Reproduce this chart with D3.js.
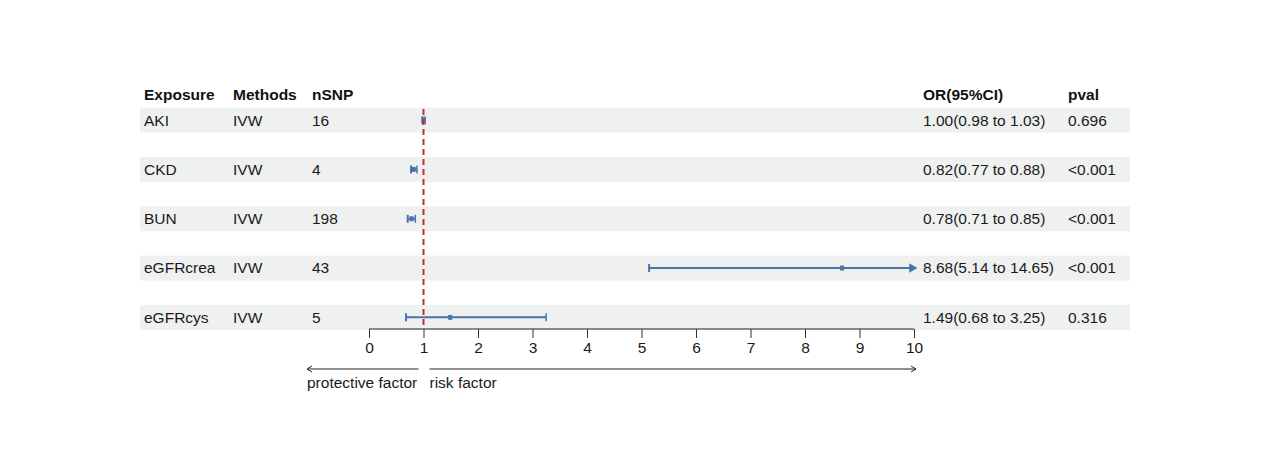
<!DOCTYPE html>
<html>
<head>
<meta charset="utf-8">
<script src="https://cdn.jsdelivr.net/npm/d3@7"></script>
<style>
  body { margin: 0; background: #fff; }
  text { font-family: "Liberation Sans", Arial, sans-serif; }
</style>
</head>
<body>
<div id="chart"></div>
<script>
var exposures = ["AKI", "CKD", "BUN", "eGFRcrea", "eGFRcys"];
var methods = ["IVW", "IVW", "IVW", "IVW", "IVW"];
var nsnp = [16, 4, 198, 43, 5];
var or = [1.00, 0.82, 0.78, 8.68, 1.49];
var lower = [0.98, 0.77, 0.71, 5.14, 0.68];
var upper = [1.03, 0.88, 0.85, 14.65, 3.25];
var orText = ["1.00(0.98 to 1.03)", "0.82(0.77 to 0.88)", "0.78(0.71 to 0.85)", "8.68(5.14 to 14.65)", "1.49(0.68 to 3.25)"];
var pval = ["0.696", "<0.001", "<0.001", "<0.001", "0.316"];
var xTicks = [0, 1, 2, 3, 4, 5, 6, 7, 8, 9, 10];
var headers = ["Exposure", "Methods", "nSNP", "OR(95%CI)", "pval"];

var w = 1270, h = 476;
var blue = "#4a74a6";
var fs = 15.5;
var svg = d3.select("#chart").append("svg")
    .attr("width", w)
    .attr("height", h);

var x = d3.scaleLinear().domain([0, 10]).range([369, 914]);
var y = d3.scaleBand().domain(d3.range(exposures.length)).range([95.5, 342]).paddingInner(0);
var rowY = function(i){ return y(i) + y.bandwidth() / 2; };
var colX = [144, 233, 312, 923, 1068];

// row bands
svg.selectAll("rect.band")
    .data(exposures)
    .enter()
    .append("rect")
    .attr("class", "band")
    .attr("x", 140)
    .attr("y", function(d, i){ return rowY(i) - 12.5; })
    .attr("width", 990)
    .attr("height", 25)
    .attr("fill", "#eff1f1");

// header
svg.selectAll("text.hdr")
    .data(headers)
    .enter()
    .append("text")
    .attr("class", "hdr")
    .attr("x", function(d, i){ return colX[i]; })
    .attr("y", 95)
    .attr("dy", "0.35em")
    .attr("font-size", fs)
    .attr("font-weight", "bold")
    .attr("fill", "#111")
    .text(function(d){ return d; });

// table columns
var cols = [exposures, methods, nsnp, orText, pval];
cols.forEach(function(col, c){
  svg.selectAll("text.c" + c)
      .data(col)
      .enter()
      .append("text")
      .attr("class", "c" + c)
      .attr("x", colX[c])
      .attr("y", function(d, i){ return rowY(i); })
      .attr("dy", "0.35em")
      .attr("font-size", fs)
      .attr("fill", "#1a1a1a")
      .text(function(d){ return d; });
});

// axis
var axis = d3.axisBottom(x).tickValues(xTicks).tickSize(9).tickPadding(4);
var gAxis = svg.append("g")
    .attr("transform", "translate(0,329)")
    .call(axis);
gAxis.select(".domain").attr("stroke", "#222").attr("stroke-width", 1.2)
    .attr("d", "M" + x(0) + ",0H" + x(10));
gAxis.selectAll(".tick line").attr("stroke", "#333");
gAxis.selectAll(".tick text")
    .attr("font-size", fs)
    .attr("fill", "#1a1a1a")
    .attr("font-family", "Liberation Sans, Arial, sans-serif");

// CI lines
var clip = function(v){ return Math.min(v, 10); };
svg.selectAll("line.ci")
    .data(or)
    .enter()
    .append("line")
    .attr("class", "ci")
    .attr("x1", function(d, i){ return x(lower[i]); })
    .attr("x2", function(d, i){ return x(clip(upper[i])) - (upper[i] > 10 ? 4 : 0); })
    .attr("y1", function(d, i){ return rowY(i); })
    .attr("y2", function(d, i){ return rowY(i); })
    .attr("stroke", blue)
    .attr("stroke-width", 2);

// lower caps
svg.selectAll("line.capl")
    .data(or)
    .enter()
    .append("line")
    .attr("class", "capl")
    .attr("x1", function(d, i){ return x(lower[i]); })
    .attr("x2", function(d, i){ return x(lower[i]); })
    .attr("y1", function(d, i){ return rowY(i) - 4; })
    .attr("y2", function(d, i){ return rowY(i) + 4; })
    .attr("stroke", blue)
    .attr("stroke-width", 2);

// upper caps or arrows
svg.selectAll("path.capu")
    .data(or)
    .enter()
    .append("path")
    .attr("class", "capu")
    .attr("d", function(d, i){
      var yy = rowY(i);
      if (upper[i] > 10) {
        var xe = x(10) + 2;
        return "M" + (xe - 6) + "," + (yy - 3.5) + "L" + xe + "," + yy + "L" + (xe - 6) + "," + (yy + 3.5) + "Z";
      }
      var xu = x(upper[i]);
      return "M" + xu + "," + (yy - 4) + "L" + xu + "," + (yy + 4);
    })
    .attr("stroke", blue)
    .attr("stroke-width", 1.5)
    .attr("fill", blue);

// point estimates
svg.selectAll("rect.pt")
    .data(or)
    .enter()
    .append("rect")
    .attr("class", "pt")
    .attr("x", function(d){ return x(d) - 2; })
    .attr("y", function(d, i){ return rowY(i) - 2.5; })
    .attr("width", 4)
    .attr("height", 5)
    .attr("fill", blue);

// reference line
svg.append("line")
    .attr("x1", x(1))
    .attr("x2", x(1))
    .attr("y1", 109)
    .attr("y2", 329)
    .attr("stroke", "#c0312b")
    .attr("stroke-width", 2)
    .attr("stroke-dasharray", "6,4");

// direction arrows
var arrowY = 369;
svg.append("line")
    .attr("x1", x(1) - 5).attr("x2", 308)
    .attr("y1", arrowY).attr("y2", arrowY)
    .attr("stroke", "#222").attr("stroke-width", 1);
svg.append("path")
    .attr("d", "M312," + (arrowY - 3) + "L307," + arrowY + "L312," + (arrowY + 3))
    .attr("fill", "none").attr("stroke", "#222");
svg.append("line")
    .attr("x1", x(1) + 6).attr("x2", x(10) + 2)
    .attr("y1", arrowY).attr("y2", arrowY)
    .attr("stroke", "#222").attr("stroke-width", 1);
svg.append("path")
    .attr("d", "M" + (x(10) - 3) + "," + (arrowY - 3) + "L" + (x(10) + 2) + "," + arrowY + "L" + (x(10) - 3) + "," + (arrowY + 3))
    .attr("fill", "none").attr("stroke", "#222");

svg.append("text")
    .attr("x", 307).attr("y", 383).attr("dy", "0.35em")
    .attr("font-size", fs).attr("fill", "#1a1a1a")
    .text("protective factor");
svg.append("text")
    .attr("x", x(1) + 6).attr("y", 383).attr("dy", "0.35em")
    .attr("font-size", fs).attr("fill", "#1a1a1a")
    .text("risk factor");
</script>
</body>
</html>
